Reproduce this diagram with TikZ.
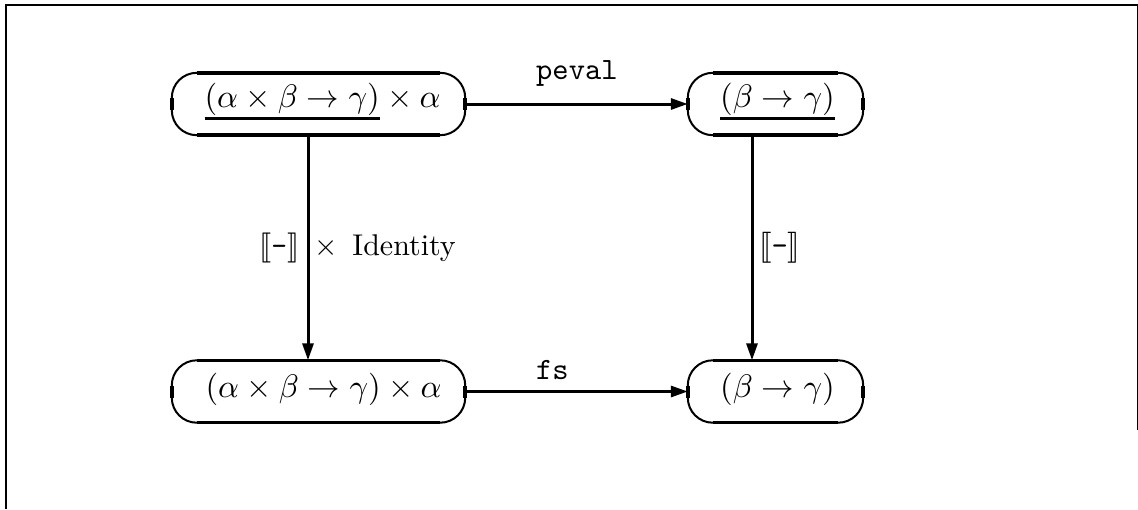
\documentclass[tikz,border=0pt]{standalone}
\usepackage{graphicx}
\usepackage{stmaryrd}
\usetikzlibrary{arrows.meta}
\newcommand\myul[1]{\setbox0\hbox{$#1$}\rlap{\rule[-3.96pt]{\wd0}{0.92pt}}\box0}
\newcommand\capborder[1]{%
  \draw[thinline, rounded corners=25pt] (#1.south west) rectangle (#1.north east);
  \draw[thickline] ([xshift=25pt]#1.north west) -- ([xshift=-25pt]#1.north east);
  \draw[thickline] ([xshift=25pt]#1.south west) -- ([xshift=-25pt]#1.south east);
  \draw[thickline] ([yshift=-6pt]#1.west) -- ([yshift=6pt]#1.west);
  \draw[thickline] ([yshift=-6pt]#1.east) -- ([yshift=6pt]#1.east);
}
\begin{document}
\begin{tikzpicture}[x=1pt,y=-1pt,
  capsule/.style={inner sep=0pt, minimum height=62pt, minimum width=#1},
  topnode/.style={text height=20pt, text depth=13.6pt},
  botnode/.style={text height=22pt, text depth=11pt},
  thinline/.style={line width=2pt},
  thickline/.style={line width=3.5pt},
  arrowline/.style={line width=3pt, -{Triangle[length=17pt,width=11pt]}},
  lbl/.style={inner sep=0pt, anchor=base west},
  frameline/.style={line width=2pt}]
\useasboundingbox (0,0) rectangle (1138,509);
\draw[frameline] (6,509) -- (6,5) -- (1138,5);
\draw[line width=1.5pt] (1137.5,5) -- (1137.5,430);
% nodes
\node[capsule=293pt, topnode] (A) at (318.5,104)
  {\hspace*{8pt}\scalebox{3.25}{$\myul{(\alpha\times\beta\to\gamma)}\times\alpha$}};
\node[capsule=175pt, topnode] (B) at (775.5,104)
  {\hspace*{4pt}\scalebox{3.25}{$\myul{(\beta\to\gamma)}$}};
\node[capsule=293pt, botnode] (C) at (318.5,391.5)
  {\hspace*{10pt}\scalebox{3.25}{$(\alpha\times\beta\to\gamma)\times\alpha$}};
\node[capsule=175pt, botnode] (D) at (775.5,391.5)
  {\hspace*{4pt}\scalebox{3.25}{$(\beta\to\gamma)$}};
\capborder{A}
\capborder{B}
\capborder{C}
\capborder{D}
% connectors
\draw[arrowline] (A.east) -- (B.west);
\draw[arrowline] (C.east) -- (D.west);
\draw[arrowline] ([xshift=-10.5pt]A.south) -- ([xshift=-10.5pt]C.north);
\draw[arrowline] ([xshift=-23.5pt]B.south) -- ([xshift=-23.5pt]D.north);
% labels
\node[lbl] (lpeval) at (536,79) {\scalebox{3.1}{\texttt{peval}}};
\node[lbl] (lfs) at (536,379) {\scalebox{3.1}{\texttt{fs}}};
\node[lbl] (lleft) at (259,255)
  {\scalebox{3}{$\llbracket\texttt{-}\rrbracket\;\times\;\mbox{Identity}$}};
\node[lbl] (lright) at (759,255) {\scalebox{3.1}{$\llbracket\texttt{-}\rrbracket$}};
\end{tikzpicture}
\end{document}
